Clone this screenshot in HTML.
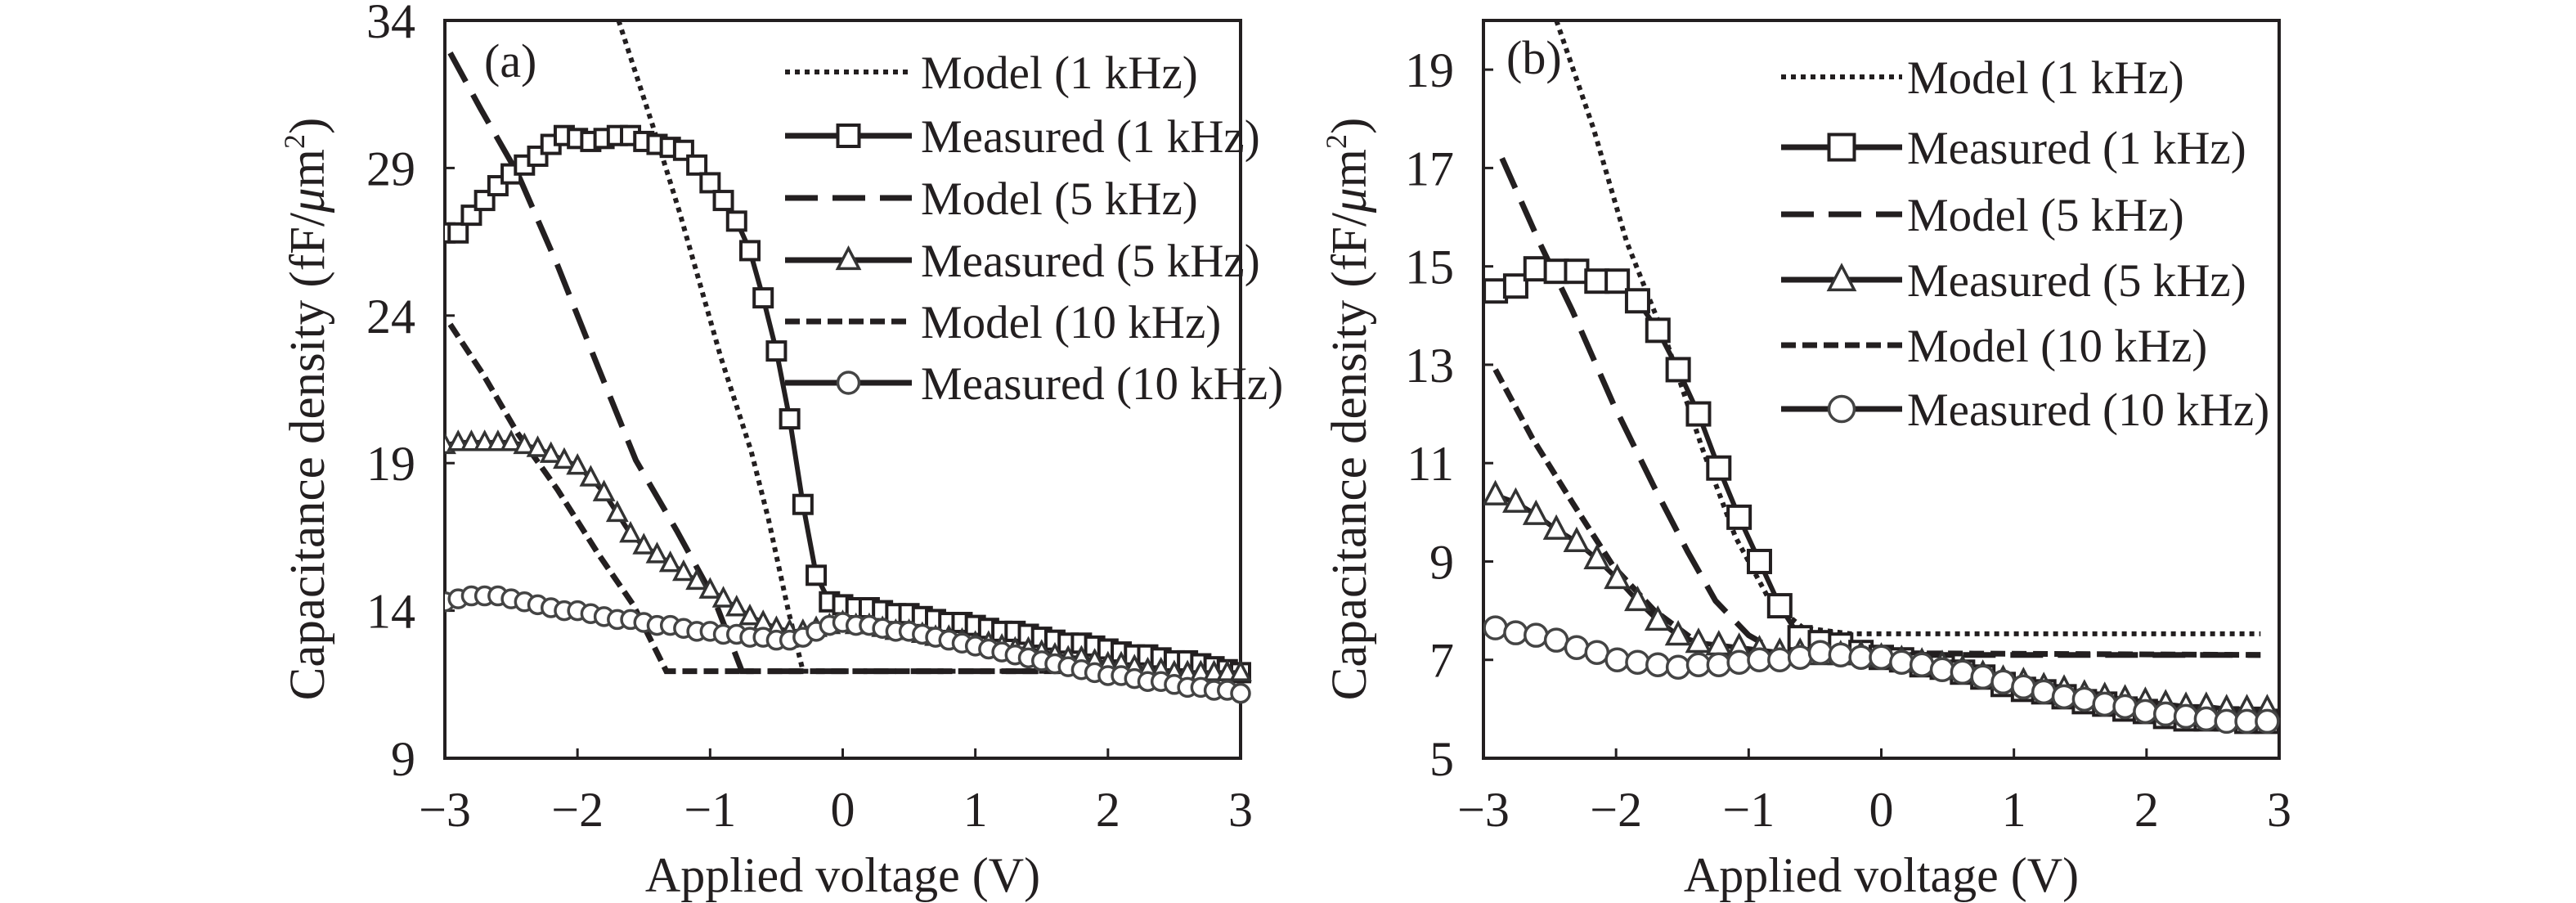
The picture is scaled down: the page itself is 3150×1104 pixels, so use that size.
<!DOCTYPE html>
<html><head><meta charset="utf-8">
<style>
html,body{margin:0;padding:0;background:#fff;}
svg{display:block;font-family:"Liberation Serif",serif;}
text{fill:#231f20;}
</style></head>
<body>
<svg id="fig" width="3150" height="1104" viewBox="0 0 3150 1104" xmlns="http://www.w3.org/2000/svg"></svg>
<script>
// ---------- DATA: panel (a) ----------
const xTicks = [-3,-2,-1,0,1,2,3];
const aYTicks = [9,14,19,24,29,34];
const bYTicks = [5,7,9,11,13,15,17,19];
const legendLabels = ["Model (1 kHz)","Measured (1 kHz)","Model (5 kHz)","Measured (5 kHz)","Model (10 kHz)","Measured (10 kHz)"];

const aModel1X = [-1.69,-1.43,-1.23,-0.92,-0.69,-0.56,-0.41,-0.30,3.0];
const aModel1Y = [34,30.4,27.5,22.6,19.4,17.1,14.0,11.95,11.95];
const aModel5X = [-2.96,-2.73,-2.45,-2.15,-1.84,-1.56,-1.25,-0.97,-0.76,3.0];
const aModel5Y = [32.9,31.0,28.8,25.7,22.2,19.1,16.7,14.4,11.95,11.95];
const aModel10X = [-2.96,-2.71,-2.45,-2.15,-1.84,-1.58,-1.33,3.0];
const aModel10Y = [23.7,22.0,20.0,18.1,15.9,14.2,11.95,11.95];
// measured (a): voltages -3..3 step 0.1
const aMeasX = Array.from({length:61},(_,i)=>-3+i*0.1);
const aMeas1 = [26.8,26.8,27.4,27.9,28.4,28.8,29.1,29.4,29.8,30.1,30.0,29.9,30.0,30.1,30.1,29.9,29.8,29.7,29.6,29.1,
 28.5,27.9,27.2,26.2,24.6,22.8,20.5,17.6,15.2,14.3,14.2,
 14.1,14.1,14.0,13.9,13.9,13.8,13.7,13.6,13.6,13.5,13.4,13.3,13.3,13.2,13.1,13.0,12.9,12.9,12.8,12.7,12.6,12.5,12.5,12.4,12.3,12.3,12.2,12.1,12.0,11.9];
const aMeas5 = [19.6,19.7,19.7,19.7,19.7,19.7,19.6,19.5,19.3,19.1,18.9,18.5,18.0,17.3,16.6,16.2,15.9,15.6,15.3,15.0,
 14.7,14.4,14.1,13.8,13.6,13.4,13.3,13.3,13.4,13.5,13.6,
 13.5,13.5,13.4,13.3,13.3,13.2,13.1,13.1,13.0,12.9,12.9,12.8,12.7,12.7,12.6,12.5,12.4,12.4,12.3,12.2,12.2,12.1,12.0,12.0,11.9,11.9,11.9,11.9,11.9,11.9];
const aMeas10 = [14.3,14.4,14.5,14.5,14.5,14.4,14.3,14.2,14.1,14.0,14.0,13.9,13.8,13.7,13.7,13.6,13.5,13.5,13.4,13.3,
 13.3,13.2,13.2,13.1,13.1,13.0,13.0,13.1,13.3,13.5,13.6,
 13.5,13.5,13.4,13.3,13.3,13.2,13.1,13.0,12.9,12.8,12.7,12.6,12.5,12.4,12.3,12.2,12.1,12.0,11.9,11.8,11.8,11.7,11.6,11.6,11.5,11.4,11.4,11.3,11.3,11.2];

// ---------- DATA: panel (b) ----------
const bModel1X = [-2.45,-2.17,-1.92,-1.61,-1.35,-1.10,-0.84,-0.59,-0.23,2.86];
const bModel1Y = [20.0,17.8,15.5,13.4,11.3,9.5,8.2,7.65,7.53,7.53];
const bModel5X = [-2.86,-2.58,-2.33,-2.02,-1.71,-1.46,-1.25,-1.0,-0.74,2.86];
const bModel5Y = [17.2,15.5,14.1,12.2,10.5,9.2,8.2,7.5,7.1,7.1];
const bModel10X = [-2.91,-2.63,-2.33,-2.02,-1.71,-1.41,-1.15,2.86];
const bModel10Y = [12.9,11.5,10.2,8.9,8.0,7.4,7.15,7.1];
const bMeasX = Array.from({length:39},(_,i)=>-2.91+i*5.82/38);
const bMeas1 = [14.5,14.6,14.95,14.9,14.9,14.7,14.7,14.3,13.7,12.9,12.0,10.9,9.9,9.0,8.1,7.45,7.35,7.3,7.15,7.05,
 7.0,6.9,6.85,6.75,6.65,6.5,6.4,6.35,6.25,6.15,6.1,6.0,5.95,5.85,5.8,5.8,5.8,5.75,5.75];
const bMeas5 = [10.35,10.2,9.95,9.65,9.4,9.05,8.65,8.2,7.8,7.5,7.35,7.3,7.25,7.2,7.15,7.15,7.1,7.1,7.1,7.05,
 7.0,6.95,6.9,6.8,6.7,6.6,6.55,6.45,6.4,6.3,6.25,6.2,6.15,6.1,6.05,6.05,6.0,6.0,6.0];
const bMeas10 = [7.65,7.55,7.5,7.4,7.25,7.15,7.0,6.95,6.9,6.85,6.9,6.9,6.95,7.0,7.0,7.05,7.15,7.1,7.05,7.05,
 6.95,6.9,6.8,6.75,6.65,6.55,6.45,6.35,6.25,6.2,6.1,6.05,5.95,5.9,5.85,5.8,5.75,5.75,5.75];

const NS="http://www.w3.org/2000/svg";
const svg=document.getElementById('fig');
function mk(tag,attrs,parent){const e=document.createElementNS(NS,tag);for(const k in attrs)e.setAttribute(k,attrs[k]);(parent||svg).appendChild(e);return e;}
const C="#231f20";
const DASH={dot:"6 6",long:"40 18",short:"18 8"};

function panel(p){
  const g=mk('g',{});
  
  
  const X=v=>p.x0+(v+3)/6*(p.x1-p.x0);
  const Y=v=>p.y1-(v-p.ymin)/(p.ymax-p.ymin)*(p.y1-p.y0);
  const fr=mk('rect',{x:p.x0,y:p.y0,width:p.x1-p.x0,height:p.y1-p.y0,fill:'none',stroke:C,'stroke-width':4},g);
  
  
  xTicks.forEach(t=>{
    mk('line',{x1:X(t),x2:X(t),y1:p.y1,y2:p.y1-12,stroke:C,'stroke-width':3},g);
    const tx=mk('text',{x:X(t),y:1010,'font-size':60,'text-anchor':'middle'},g);
    tx.textContent=(t<0?'\u2212':'')+Math.abs(t);
    
    
  });
  p.yTicks.forEach(t=>{
    mk('line',{x1:p.x0,x2:p.x0+12,y1:Y(t),y2:Y(t),stroke:C,'stroke-width':3},g);
    const ty=mk('text',{x:p.x0-36,y:Y(t)+21,'font-size':60,'text-anchor':'end'},g);
    ty.textContent=t;
    
    
  });
  const xt=mk('text',{x:(p.x0+p.x1)/2,y:1090,'font-size':60,'text-anchor':'middle'},g);
  xt.textContent='Applied voltage (V)';
  
  
  const yt=mk('text',{x:0,y:0,'font-size':61,'text-anchor':'middle',transform:`translate(${p.ytx},500) rotate(-90)`},g);
  yt.innerHTML='Capacitance density (fF/<tspan font-style="italic">\u03bc</tspan>m<tspan font-size="36" dy="-24">2</tspan><tspan dy="24">)</tspan>';
  
  
  const pl=mk('text',{x:p.lab[0],y:p.lab[1],'font-size':58},g);
  pl.textContent=p.label;
  
  
  const cid='clip'+p.label.replace(/\W/g,'');
  const cp=mk('clipPath',{id:cid},g);
  mk('rect',{x:p.x0,y:p.y0,width:p.x1-p.x0+20,height:p.y1-p.y0},cp);
  const dg=mk('g',{'clip-path':`url(#${cid})`},g);
  function line(xs,ys,dash,name,w){
    const d=xs.map((v,i)=>(i?'L':'M')+X(v).toFixed(1)+' '+Y(ys[i]).toFixed(1)).join(' ');
    const e=mk('path',{d:d,fill:'none',stroke:C,'stroke-width':w,'stroke-dasharray':dash||'none'},dg);
    
    
  }
  function marker(x,y,type,s,parent){
    let e;
    if(type==='sq') e=mk('rect',{x:x-s/2,y:y-s/2,width:s,height:s,fill:'#fff',stroke:C,'stroke-width':4},parent);
    else if(type==='tri') e=mk('path',{d:`M${x} ${y-s*0.55}L${x+s*0.5} ${y+s*0.4}L${x-s*0.5} ${y+s*0.4}Z`,fill:'#fff',stroke:'#333','stroke-width':3.5},parent);
    else e=mk('circle',{cx:x,cy:y,r:s/2,fill:'#fff',stroke:'#444','stroke-width':3.5},parent);
    return e;
  }
  function meas(xs,ys,type,name){
    line(xs,ys,null,name+'-line',6);
    xs.forEach((v,i)=>{
      const m=marker(X(v),Y(ys[i]),type,p.ms,dg);
      
      
    });
  }
  line(p.m1x,p.m1y,DASH.dot,'model-1khz',6);
  line(p.m5x,p.m5y,DASH.long,'model-5khz',7);
  line(p.m10x,p.m10y,DASH.short,'model-10khz',7);
  meas(p.mx,p.meas1,'sq','measured-1khz');
  meas(p.mx,p.meas5,'tri','measured-5khz');
  meas(p.mx,p.meas10,'ci','measured-10khz');
  const types=['dot','sq','long','tri','short','ci'];
  types.forEach((t,i)=>{
    const y=p.leg.ys[i];
    const lg=mk('g',{},g);
    
    
    const dash=t==='dot'?DASH.dot:t==='long'?DASH.long:t==='short'?DASH.short:'none';
    mk('line',{x1:p.leg.x0,x2:p.leg.x1,y1:y,y2:y,stroke:C,'stroke-width':t==='dot'?6:7,'stroke-dasharray':dash},lg);
    if(t==='sq'||t==='tri'||t==='ci') marker((p.leg.x0+p.leg.x1)/2,y,t,p.ms+4,lg);
    const tx=mk('text',{x:p.leg.tx,y:y+20,'font-size':57},lg);
    tx.textContent=legendLabels[i];
  });
}

panel({name:'panel-a',label:'(a)',x0:544,x1:1517,y0:25,y1:927,ymin:9,ymax:34,yTicks:aYTicks,ytx:396,lab:[592,94],ms:22,
  m1x:aModel1X,m1y:aModel1Y,m5x:aModel5X,m5y:aModel5Y,m10x:aModel10X,m10y:aModel10Y,
  mx:aMeasX,meas1:aMeas1,meas5:aMeas5,meas10:aMeas10,
  leg:{x0:960,x1:1115,tx:1126,ys:[88,166,242,318,393,468]}});
panel({name:'panel-b',label:'(b)',x0:1814,x1:2787,y0:25,y1:927,ymin:5,ymax:20,yTicks:bYTicks,ytx:1670,lab:[1842,90],ms:27,
  m1x:bModel1X,m1y:bModel1Y,m5x:bModel5X,m5y:bModel5Y,m10x:bModel10X,m10y:bModel10Y,
  mx:bMeasX,meas1:bMeas1,meas5:bMeas5,meas10:bMeas10,
  leg:{x0:2178,x1:2326,tx:2332,ys:[94,180,262,342,422,500]}});
</script>
</body></html>
